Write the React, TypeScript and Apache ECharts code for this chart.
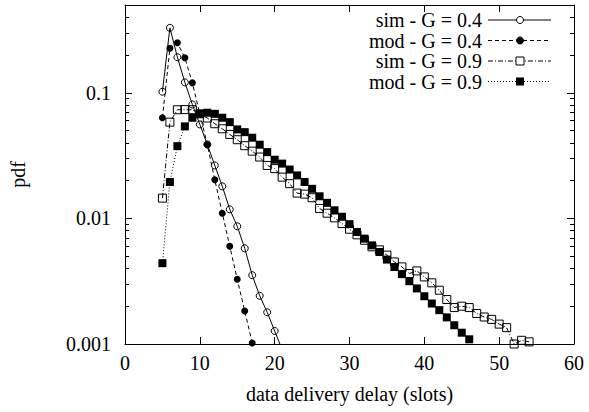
import React, { useEffect, useRef } from "react";
import * as echarts from "echarts";

// delay (slots) of the first point of each series
const simG04Start = 5;
const modG04Start = 5;
const simG09Start = 5;
const modG09Start = 5;

const simG04 = [0.102, 0.329, 0.192, 0.121, 0.0807, 0.056, 0.0388, 0.0264, 0.018, 0.0118, 0.00865, 0.00578, 0.00353, 0.00242, 0.00179, 0.00127, 0.0009];
const modG04 = [0.0633, 0.226, 0.25, 0.19, 0.12, 0.068, 0.0386, 0.0203, 0.011, 0.006, 0.00328, 0.00183, 0.00102];
const simG09 = [0.0145, 0.0584, 0.0733, 0.0735, 0.0733, 0.068, 0.063, 0.0567, 0.0517, 0.0466, 0.0423, 0.0379, 0.0343, 0.0308, 0.0264, 0.0249, 0.0213, 0.0189, 0.0159, 0.0156, 0.0146, 0.012, 0.011, 0.0101, 0.0091, 0.0082, 0.0074, 0.0067, 0.00594, 0.00562, 0.0051, 0.0045, 0.00411, 0.00364, 0.00382, 0.00342, 0.00307, 0.00268, 0.00226, 0.00195, 0.002, 0.00195, 0.00175, 0.00164, 0.00157, 0.00144, 0.00135, 0.001, 0.00107, 0.00104];
const modG09 = [0.0044, 0.0195, 0.0376, 0.054, 0.0633, 0.068, 0.0694, 0.068, 0.0633, 0.0584, 0.0511, 0.0486, 0.0439, 0.0386, 0.0337, 0.0293, 0.0273, 0.0245, 0.022, 0.0195, 0.0172, 0.015, 0.0133, 0.0116, 0.0103, 0.009, 0.0078, 0.0069, 0.0061, 0.0054, 0.0047, 0.0041, 0.0036, 0.00316, 0.00277, 0.0024, 0.0021, 0.00186, 0.00163, 0.00141, 0.00123, 0.00109];

const seriesNames = ["sim - G = 0.4", "mod - G = 0.4", "sim - G = 0.9", "mod - G = 0.9"];

const yMajorTicks = [0.001, 0.01, 0.1];
const yMinorTicks = [0.002, 0.003, 0.004, 0.005, 0.006, 0.007, 0.008, 0.009, 0.02, 0.03, 0.04, 0.05, 0.06, 0.07, 0.08, 0.09, 0.2, 0.3, 0.4];
const xMin = 0;
const xMax = 60;
const xInterval = 10;
const yMin = 0.001;
const yMax = 0.5;

const FONT = "Liberation Serif";

const toPairs = (start: number, vals: number[]) => vals.map((v, i) => [start + i, v]);

export default function App() {
  const ref = useRef<HTMLDivElement>(null);
  useEffect(() => {
    if (!ref.current) return;
    const chart = echarts.init(ref.current, null, { renderer: "svg" });
    const baseY = {
      type: "log" as const,
      min: yMin,
      max: yMax,
      logBase: 10,
      splitLine: { show: false },
      axisLabel: { show: false },
    };
    const majorTick = { show: true, inside: true, length: 7, lineStyle: { color: "#000", width: 1 } };
    const minorTickStyle = { show: true, inside: true, length: 4, lineStyle: { color: "#000", width: 1 } };
    const baseX = {
      type: "value" as const,
      min: xMin,
      max: xMax,
      interval: xInterval,
      splitLine: { show: false },
      axisLine: { show: true, onZero: false, lineStyle: { color: "#000", width: 1 } },
      axisTick: majorTick,
    };
    const lineTypes: any[] = ["solid", [4, 3], [5, 2, 1, 2], [1, 2]];
    const lineDashes: any[] = [null, [4, 3], [5, 2, 1, 2], [1, 2]];

    // legend (drawn as graphic: text right-aligned, sample line + marker on the right)
    const legendRowY = [20, 40.5, 61, 81.5];
    const legendTextRight = 482;
    const legendLineX1 = 488;
    const legendLineX2 = 551;
    const legendMarkX = 520;
    const legendGraphic: any[] = [];
    seriesNames.forEach((name, i) => {
      const y = legendRowY[i];
      legendGraphic.push({
        type: "text",
        x: legendTextRight,
        y,
        style: {
          text: name,
          fontFamily: FONT,
          fontSize: 20,
          fill: "#000",
          align: "right",
          verticalAlign: "middle",
        },
      });
      legendGraphic.push({
        type: "line",
        shape: { x1: legendLineX1, y1: y, x2: legendLineX2, y2: y },
        style: { stroke: "#000", lineWidth: 1, lineDash: lineDashes[i] },
      });
      const filled = i === 1 || i === 3;
      if (i < 2) {
        legendGraphic.push({
          type: "circle",
          shape: { cx: legendMarkX, cy: y, r: 3.5 },
          style: { fill: filled ? "#000" : "#fff", stroke: "#000", lineWidth: 1 },
        });
      } else {
        legendGraphic.push({
          type: "rect",
          shape: { x: legendMarkX - 4, y: y - 4, width: 8, height: 8 },
          style: { fill: filled ? "#000" : "#fff", stroke: "#000", lineWidth: filled ? 0 : 1 },
        });
      }
    });

    chart.setOption({
      animation: false,
      backgroundColor: "#fff",
      textStyle: { fontFamily: FONT, color: "#000" },
      grid: { left: 125, top: 5, width: 449, height: 339, containLabel: false },
      graphic: legendGraphic,
      xAxis: [
        {
          ...baseX,
          position: "bottom",
          name: "data delivery delay (slots)",
          nameLocation: "middle",
          nameGap: 40,
          nameTextStyle: { fontFamily: FONT, fontSize: 20, color: "#000" },
          axisLabel: { show: true, margin: 9, fontFamily: FONT, fontSize: 20, color: "#000" },
        },
        { ...baseX, position: "top", axisLabel: { show: false } },
      ],
      yAxis: [
        {
          ...baseY,
          position: "left",
          name: "pdf",
          nameLocation: "middle",
          nameGap: 97,
          nameTextStyle: { fontFamily: FONT, fontSize: 20, color: "#000" },
          axisLine: { show: true, lineStyle: { color: "#000", width: 1 } },
          axisTick: { ...majorTick, customValues: yMajorTicks },
          axisLabel: {
            show: true,
            margin: 14,
            fontFamily: FONT,
            fontSize: 20,
            color: "#000",
            customValues: yMajorTicks,
            formatter: (v: number) => String(v),
          },
        },
        {
          ...baseY,
          position: "left",
          axisLine: { show: false },
          axisTick: { ...minorTickStyle, customValues: yMinorTicks },
        },
        {
          ...baseY,
          position: "right",
          axisLine: { show: true, lineStyle: { color: "#000", width: 1 } },
          axisTick: { ...majorTick, customValues: yMajorTicks },
        },
        {
          ...baseY,
          position: "right",
          axisLine: { show: false },
          axisTick: { ...minorTickStyle, customValues: yMinorTicks },
        },
      ],
      series: [
        {
          name: seriesNames[0],
          type: "line",
          data: toPairs(simG04Start, simG04),
          clip: true,
          symbol: "circle",
          symbolSize: 7,
          color: "#000",
          lineStyle: { color: "#000", width: 1, type: lineTypes[0] },
          itemStyle: { color: "rgba(255,255,255,0)", borderColor: "#000", borderWidth: 1 },
        },
        {
          name: seriesNames[1],
          type: "line",
          data: toPairs(modG04Start, modG04),
          clip: true,
          symbol: "circle",
          symbolSize: 7,
          color: "#000",
          lineStyle: { color: "#000", width: 1, type: lineTypes[1] },
          itemStyle: { color: "#000", borderColor: "#000", borderWidth: 0 },
        },
        {
          name: seriesNames[2],
          type: "line",
          data: toPairs(simG09Start, simG09),
          clip: true,
          symbol: "rect",
          symbolSize: 8,
          color: "#000",
          lineStyle: { color: "#000", width: 1, type: lineTypes[2] },
          itemStyle: { color: "rgba(255,255,255,0)", borderColor: "#000", borderWidth: 1 },
        },
        {
          name: seriesNames[3],
          type: "line",
          data: toPairs(modG09Start, modG09),
          clip: true,
          symbol: "rect",
          symbolSize: 8,
          color: "#000",
          lineStyle: { color: "#000", width: 1, type: lineTypes[3] },
          itemStyle: { color: "#000", borderColor: "#000", borderWidth: 0 },
        },
      ],
    });
    return () => chart.dispose();
  }, []);
  return (
    <div
      ref={ref}
      style={{ position: "absolute", left: 0, top: 0, width: 589, height: 412, background: "#fff" }}
    />
  );
}
